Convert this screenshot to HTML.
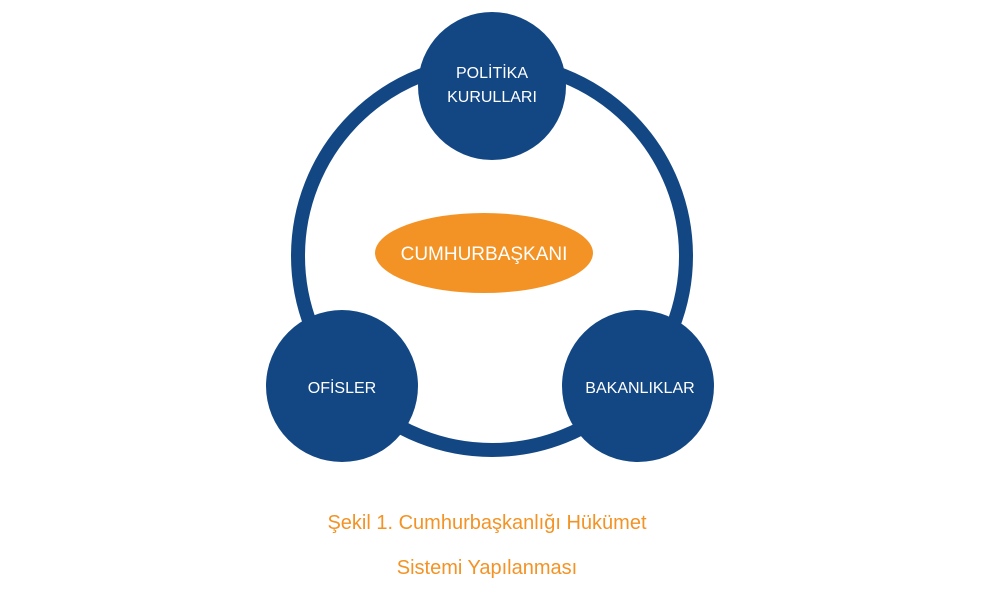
<!DOCTYPE html>
<html><head><meta charset="utf-8"><style>
html,body{margin:0;padding:0;background:#fff;width:1000px;height:600px;overflow:hidden}
</style></head><body>
<svg width="1000" height="600" viewBox="0 0 1000 600" xmlns="http://www.w3.org/2000/svg" font-family="Liberation Sans, sans-serif">
<circle cx="492" cy="256" r="194" fill="none" stroke="#134784" stroke-width="14"/>
<circle cx="492" cy="86" r="74" fill="#134784"/>
<circle cx="342" cy="386" r="76" fill="#134784"/>
<circle cx="638" cy="386" r="76" fill="#134784"/>
<ellipse cx="484" cy="253" rx="109" ry="40" fill="#f39325"/>
<g fill="#fff" font-size="16" text-anchor="middle">
<text x="492" y="78">POLİTİKA</text>
<text x="492" y="102">KURULLARI</text>
<text x="342" y="393">OFİSLER</text>
<text x="640" y="393">BAKANLIKLAR</text>
<text x="484" y="260" font-size="19">CUMHURBAŞKANI</text>
</g>
<g fill="#f39325" font-size="20" text-anchor="middle">
<text x="487" y="529">Şekil 1. Cumhurbaşkanlığı Hükümet</text>
<text x="487" y="574">Sistemi Yapılanması</text>
</g>
</svg>
</body></html>
